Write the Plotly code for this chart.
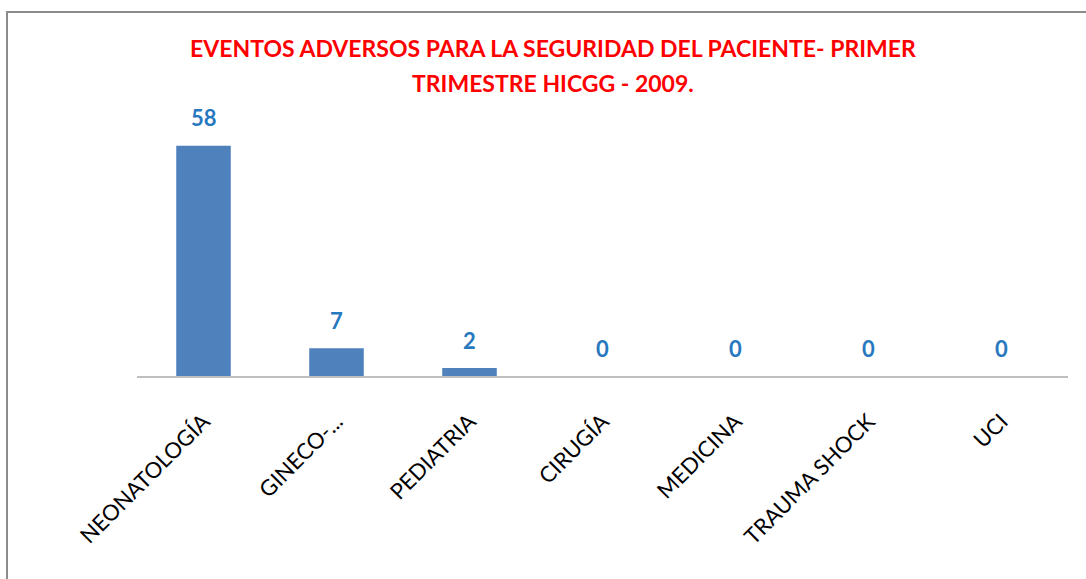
import plotly.graph_objects as go

categories = ["NEONATOLOGÍA", "GINECO-...", "PEDIATRIA", "CIRUGÍA", "MEDICINA", "TRAUMA SHOCK", "UCI"]
values = [58, 7, 2, 0, 0, 0, 0]
title_lines = ["EVENTOS ADVERSOS PARA LA SEGURIDAD DEL PACIENTE- PRIMER", "TRIMESTRE HICGG - 2009."]

W, H = 1086, 579
ml, mr, mt, mb = 137, 18, 98, 203
FONT = "Lato, Open Sans, sans-serif"

fig = go.Figure()
fig.add_trace(go.Bar(
    x=categories, y=values,
    marker=dict(color="#4F81BD", line=dict(width=0)),
    width=0.41,
    hoverinfo="x+y",
))

for c, v in zip(categories, values):
    fig.add_annotation(
        x=c, y=v, text=f"<b>{v}</b>", showarrow=False,
        yanchor="middle", yshift=28,
        font=dict(family=FONT, size=22, color="#2878C0"),
    )

fig.add_annotation(
    xref="paper", yref="paper", x=0.4465, y=1.0, yshift=50,
    text=f"<b>{title_lines[0]}</b>", showarrow=False, yanchor="middle",
    font=dict(family=FONT, size=23, color="#FF0000"),
)
fig.add_annotation(
    xref="paper", yref="paper", x=0.4465, y=1.0, yshift=15,
    text=f"<b>{title_lines[1]}</b>", showarrow=False, yanchor="middle",
    font=dict(family=FONT, size=23, color="#FF0000"),
)

plot_w = W - ml - mr
plot_h = H - mt - mb
fig.add_shape(
    type="rect", xref="paper", yref="paper",
    x0=(7 - ml) / plot_w, x1=1.2,
    y0=-1.0, y1=(H - mb - 12) / plot_h,
    line=dict(color="#8C8C8C", width=2), fillcolor="rgba(0,0,0,0)", layer="below",
)

fig.update_layout(
    width=W, height=H,
    margin=dict(l=ml, r=mr, t=mt, b=mb),
    paper_bgcolor="white", plot_bgcolor="white",
    showlegend=False,
    xaxis=dict(
        showline=True, linecolor="#BFBFBF", linewidth=2,
        ticks="", tickangle=-45, ticklabelstandoff=22,
        tickfont=dict(family=FONT, size=22, color="#000000"),
        showgrid=False,
    ),
    yaxis=dict(range=[0, 70], visible=False, showgrid=False, zeroline=False),
)

fig.write_html(
    "out.html",
    config={"displayModeBar": False},
    post_script="document.body.style.margin='0';document.body.style.padding='0';",
)
